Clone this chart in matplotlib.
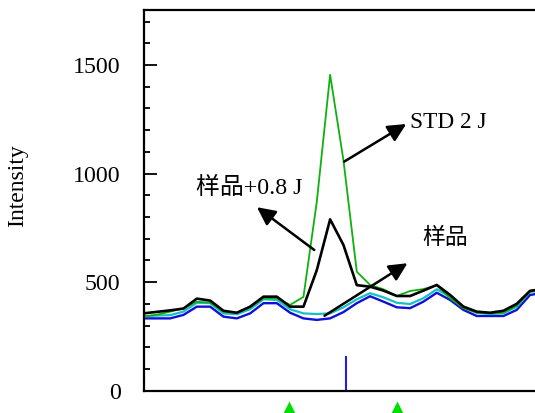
import matplotlib
matplotlib.use('Agg')
import matplotlib.pyplot as plt

plt.rcParams['font.family'] = ['Liberation Serif', 'Noto Sans CJK SC', 'DejaVu Sans']

# channel index along the scan (no x labels in the original)
channel = list(range(31))

sample = [333, 333, 333, 349, 387, 387, 341, 333, 356, 403, 403, 359, 333, 326, 333, 362,
          403, 435, 410, 384, 380, 410, 451, 418, 372, 344, 344, 344, 372, 441, 450]
sample_cyan = [343, 346, 348, 364, 405, 403, 356, 352, 375, 421, 418, 375, 356, 353, 356, 384,
               421, 449, 430, 405, 399, 426, 467, 433, 387, 359, 353, 356, 387, 456, 462]
std_2j = [341, 350, 364, 380, 410, 405, 364, 359, 384, 426, 426, 395, 432, 870, 1455, 1061,
          548, 487, 467, 436, 459, 468, 485, 426, 380, 359, 356, 359, 390, 456, 462]
sample_08j = [356, 363, 370, 378, 424, 415, 368, 359, 387, 433, 433, 387, 387, 555, 789, 671,
              486, 479, 461, 436, 436, 461, 487, 441, 387, 364, 359, 368, 400, 460, 468]

ref_pos = [15.2]
ref_height = [161]
marker_pos = [10.9, 19.0]

fig = plt.figure(figsize=(5.35, 4.13), dpi=100)
ax = fig.add_axes([143.5 / 535, 22.3 / 413, 400 / 535, 380.7 / 413])

ax.plot(channel, sample, color='#1010d8', lw=1.7)
ax.plot(channel, sample_cyan, color='#15c0c8', lw=1.6)
ax.plot(channel, std_2j, color='#10b010', lw=1.3)
ax.plot(channel, sample_08j, color='black', lw=1.9)

ax.vlines(ref_pos, 0, ref_height, color='#2020e0', lw=1.5)
ax.plot(marker_pos, [-92] * len(marker_pos), '^', color='#00e000', ms=14,
        clip_on=False, mec='none')

ax.set_xlim(0, 400 / 13.33)
ax.set_ylim(0, 1753)
ax.set_yticks([0, 500, 1000, 1500])
ax.set_yticks(range(0, 1800, 100), minor=True)
ax.set_xticks([])
ax.tick_params(axis='y', which='major', direction='in', length=9.5, width=1.3,
               labelsize=17.2, pad=16.5)
ax.tick_params(axis='y', which='minor', direction='in', length=4, width=1.3)
for s in ax.spines.values():
    s.set_linewidth(1.6)

fig.text(18 / 535, 1 - 186 / 413, 'Intensity', rotation=90, ha='center', va='center',
         fontsize=17)

arrow = dict(arrowstyle='-|>,head_length=0.55,head_width=0.27', mutation_scale=20,
             lw=1.8, color='black', shrinkA=0, shrinkB=0)
ax.annotate('', xy=(19.71, 1228), xytext=(15.06, 1055), arrowprops=arrow)
ax.text(20.0, 1233, 'STD 2 J', fontsize=16.8, va='center', ha='left')

ax.annotate('', xy=(8.51, 845), xytext=(12.81, 648), arrowprops=arrow)
ax.text(3.95, 934, '样品+0.8 J', fontsize=17.2, va='center', ha='left')

ax.annotate('', xy=(19.8, 587), xytext=(13.58, 345), arrowprops=arrow)
ax.text(20.89, 703, '样品', fontsize=16.5, va='center', ha='left')

plt.savefig('out.png', dpi=100)
